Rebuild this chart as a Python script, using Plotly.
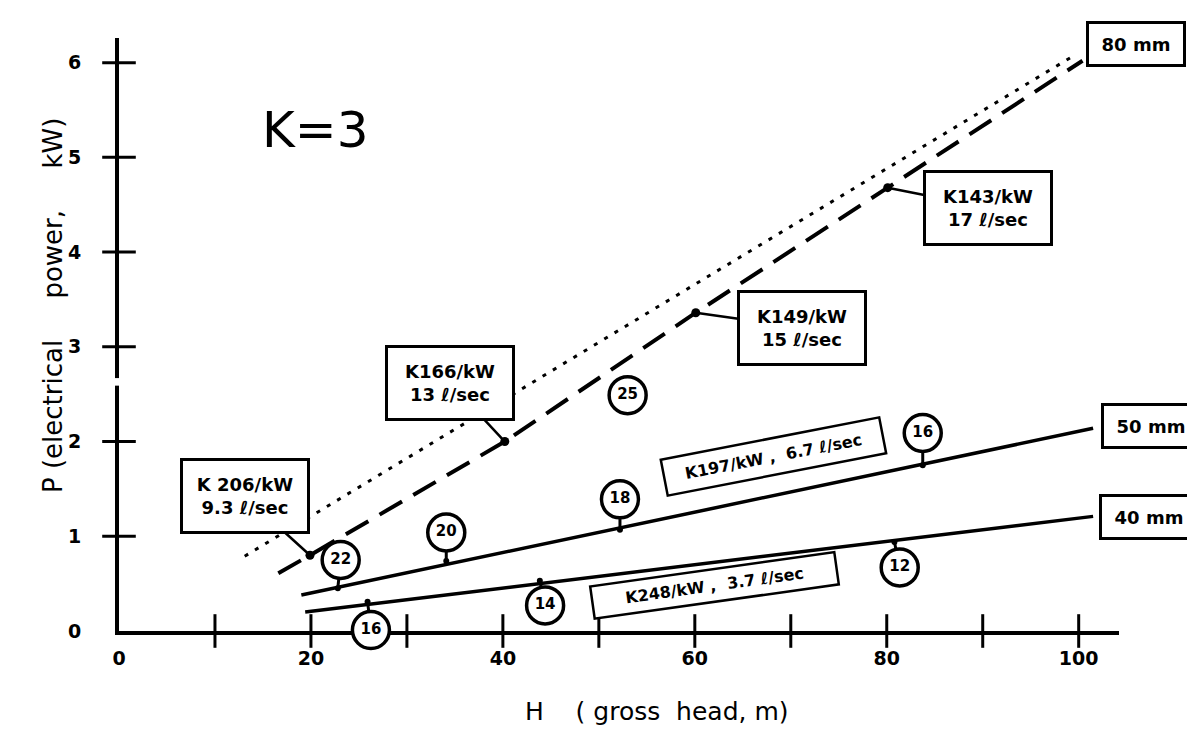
import plotly.graph_objects as go

# Axis ticks
h_ticks = [0, 10, 20, 30, 40, 50, 60, 70, 80, 90, 100]
h_labels = ["0", "", "20", "", "40", "", "60", "", "80", "", "100"]
p_ticks = [0, 1, 2, 3, 4, 5, 6]

# Upper dotted line
dot_h = [13.1, 99.1]
dot_p = [0.79, 6.05]

# Dashed line (80 mm pipe) and the costed sites on it
pipe80_h = [16.6, 19.9, 40.2, 60.1, 80.1, 100.4]
pipe80_p = [0.61, 0.80, 2.00, 3.36, 4.68, 6.02]
site_h = [19.9, 40.2, 60.1, 80.1]
site_p = [0.80, 2.00, 3.36, 4.68]
site_cost = ["K 206/kW", "K166/kW", "K149/kW", "K143/kW"]
site_flow = ["9.3 ℓ/sec", "13 ℓ/sec", "15 ℓ/sec", "17 ℓ/sec"]

# Solid lines for the smaller pipes
pipe50_h = [19.0, 101.5]
pipe50_p = [0.38, 2.14]
pipe40_h = [19.4, 101.5]
pipe40_p = [0.20, 1.21]

# Circled numbers and where their stems meet a line
circ_text = ["22", "20", "18", "25", "16", "16", "14", "12"]
circ_h = [23.1, 34.1, 52.2, 53.0, 83.75, 26.25, 44.4, 81.35]
circ_p = [0.75, 1.04, 1.39, 2.49, 2.09, 0.01, 0.27, 0.67]
stem_h = [22.8, 34.1, 52.2, None, 83.75, 25.9, 43.85, 80.8]
stem_p = [0.45, 0.74, 1.07, None, 1.75, 0.31, 0.53, 0.94]

FONT = "DejaVu Sans"
fig = go.Figure()

# lines
fig.add_trace(go.Scatter(x=dot_h, y=dot_p, mode="lines",
                         line=dict(color="black", width=3, dash="4px,8px")))
fig.add_trace(go.Scatter(x=pipe80_h, y=pipe80_p, mode="lines",
                         line=dict(color="black", width=4, dash="26px,13px")))
fig.add_trace(go.Scatter(x=pipe50_h, y=pipe50_p, mode="lines",
                         line=dict(color="black", width=3.5)))
fig.add_trace(go.Scatter(x=pipe40_h, y=pipe40_p, mode="lines",
                         line=dict(color="black", width=3.5)))
fig.add_trace(go.Scatter(x=site_h, y=site_p, mode="markers",
                         marker=dict(color="black", size=9)))

# stems from lines to circles
sx, sy = [], []
for h0, p0, h1, p1 in zip(stem_h, stem_p, circ_h, circ_p):
    if h0 is None:
        continue
    sx += [h0, h1, None]
    sy += [p0, p1, None]
fig.add_trace(go.Scatter(x=sx, y=sy, mode="lines", line=dict(color="black", width=3)))
fig.add_trace(go.Scatter(x=[h for h in stem_h if h is not None],
                         y=[p for p in stem_p if p is not None], mode="markers",
                         marker=dict(color="black", size=6)))
fig.add_trace(go.Scatter(
    x=circ_h, y=circ_p, mode="markers+text", text=circ_text,
    textposition="middle center", cliponaxis=False,
    textfont=dict(family=FONT, size=15, color="black", weight="bold"),
    marker=dict(symbol="circle", size=37, color="white",
                line=dict(color="black", width=3.5))))

# crossing tick marks
fig.add_trace(go.Scatter(x=h_ticks[1:], y=[0] * (len(h_ticks) - 1), mode="markers",
                         cliponaxis=False,
                         marker=dict(symbol="line-ns-open", size=24, color="black",
                                     line=dict(color="black", width=3))))
fig.add_trace(go.Scatter(x=[0] * (len(p_ticks) - 1), y=p_ticks[1:], mode="markers",
                         cliponaxis=False,
                         marker=dict(symbol="line-ew-open", size=24, color="black",
                                     line=dict(color="black", width=3))))

# boxed labels at the costed sites
offsets = [(-65, -59), (-55, -59), (106, 15), (100, 20)]
for h, p, c, f, (ax, ay) in zip(site_h, site_p, site_cost, site_flow, offsets):
    fig.add_annotation(x=h, y=p, ax=ax, ay=ay, text=c + "<br>" + f,
                       showarrow=True, arrowhead=0, arrowwidth=2.5, standoff=0,
                       arrowcolor="black",
                       width=116, height=62, borderpad=4, borderwidth=3,
                       bordercolor="black", bgcolor="white",
                       font=dict(family=FONT, size=18, color="black", weight="bold"))

# pipe size labels at line ends
for h, p, t, (ax, ay) in [(pipe80_h[-1], pipe80_p[-1], "80 mm", (53, -17)),
                          (pipe50_h[-1], pipe50_p[-1], "50 mm", (58, -2)),
                          (pipe40_h[-1], pipe40_p[-1], "40 mm", (56, 1))]:
    fig.add_annotation(x=h, y=p, ax=ax, ay=ay, text=t, showarrow=True,
                       arrowcolor="rgba(0,0,0,0)", arrowwidth=0.1,
                       width=88, height=34, borderpad=3, borderwidth=3,
                       bordercolor="black", bgcolor="white",
                       font=dict(family=FONT, size=18, color="black", weight="bold"))

# rotated labels along the solid lines
fig.add_annotation(x=68.2, y=1.84, text="K197/kW ,  6.7 ℓ/sec", showarrow=False,
                   textangle=-11, width=214, height=28, borderpad=3, borderwidth=2.5,
                   bordercolor="black", bgcolor="white",
                   font=dict(family=FONT, size=16, color="black", weight="bold"))
fig.add_annotation(x=62.0, y=0.48, text="K248/kW ,  3.7 ℓ/sec", showarrow=False,
                   textangle=-8, width=238, height=24, borderpad=3, borderwidth=2.5,
                   bordercolor="black", bgcolor="white",
                   font=dict(family=FONT, size=16, color="black", weight="bold"))

fig.add_annotation(x=20.5, y=5.29, text="K=3", showarrow=False,
                   font=dict(family=FONT, size=50, color="black"))

# axis titles
fig.add_annotation(xref="paper", yref="paper", x=0.538, y=-0.163,
                   text="H\u00a0\u00a0\u00a0\u00a0(\u00a0gross\u00a0\u00a0head,\u00a0m)",
                   showarrow=False, font=dict(family=FONT, size=25, color="black"))
fig.add_annotation(xref="paper", yref="paper", x=-0.083, y=0.548, textangle=-90,
                   text="P\u00a0(electrical\u00a0\u00a0\u00a0\u00a0\u00a0power,\u00a0\u00a0\u00a0\u00a0\u00a0kW)",
                   showarrow=False, font=dict(family=FONT, size=26, color="black"))

# small gap in the vertical axis
fig.add_shape(type="rect", xref="paper", yref="y", x0=-0.01, x1=0.01,
              y0=2.59, y1=2.67, fillcolor="white", line_width=0, layer="above")

fig.update_layout(
    width=1195, height=735, showlegend=False,
    paper_bgcolor="white", plot_bgcolor="white",
    margin=dict(l=111, r=84, t=30, b=112),
    font=dict(family=FONT, color="black"),
    xaxis=dict(range=[0, 104.2], tickvals=h_ticks, ticktext=h_labels,
               showline=True, linewidth=4, linecolor="black", ticks="",
               showgrid=False, zeroline=False, layer="below traces",
               ticklabelstandoff=7,
               tickfont=dict(family=FONT, size=19, color="black", weight="bold")),
    yaxis=dict(range=[0, 6.26], tickvals=p_ticks,
               showline=True, linewidth=4, linecolor="black", ticks="",
               showgrid=False, zeroline=False, layer="below traces",
               ticklabelstandoff=30,
               tickfont=dict(family=FONT, size=19, color="black", weight="bold")),
)

fig.write_html("out.html")
